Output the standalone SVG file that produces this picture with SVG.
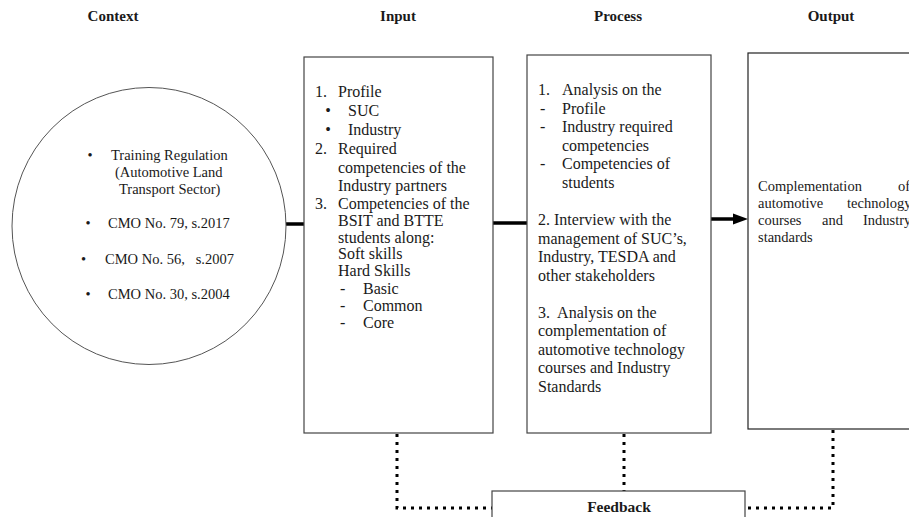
<svg xmlns="http://www.w3.org/2000/svg" width="909" height="517" viewBox="0 0 909 517">
<style>
text{font-family:"Liberation Serif","Times New Roman",serif;fill:#1a1a1a}
.h{font-size:15px;font-weight:bold;text-anchor:middle}
.c{font-size:14.5px}
.b{font-size:16px}
.o{font-size:14.5px}
.box{fill:#fff;stroke:#444;stroke-width:1.2}
.thick{stroke:#000;stroke-width:3.5;fill:none}
.dot{stroke:#000;stroke-width:3;fill:none;stroke-dasharray:3 5}
</style>
<defs>
<marker id="arr" markerWidth="14" markerHeight="10" refX="14" refY="5" orient="auto" markerUnits="userSpaceOnUse">
<path d="M0,0 L14,5 L0,10 Z" fill="#000"/>
</marker>
</defs>
<rect width="909" height="517" fill="#fff"/>
<g id="headings">
<text class="h" x="113" y="21">Context</text>
<text class="h" x="398" y="21">Input</text>
<text class="h" x="618" y="21">Process</text>
<text class="h" x="831" y="21">Output</text>
</g>
<g id="connectors">
<line class="thick" x1="286" y1="224" x2="304" y2="224"/>
<line class="thick" x1="493" y1="223" x2="527" y2="223"/>
<line class="thick" x1="711" y1="219" x2="735" y2="219"/>
<path d="M733,213.5 L748,219 L733,224.5 Z" fill="#000"/>
<path class="dot" d="M397,434 V508 H492"/>
<path class="dot" d="M624,434 V491"/>
<path class="dot" d="M833,430 V508 H746"/>
</g>
<g id="context">
<ellipse cx="149" cy="226" rx="137" ry="138.5" fill="#fff" stroke="#555" stroke-width="1"/>
<text class="c" x="90" y="160" text-anchor="middle">•</text>
<text class="c" x="111" y="160">Training Regulation</text>
<text class="c" x="115" y="177">(Automotive Land</text>
<text class="c" x="119" y="194">Transport Sector)</text>
<text class="c" x="88" y="228" text-anchor="middle">•</text>
<text class="c" x="108" y="228">CMO No. 79, s.2017</text>
<text class="c" x="83.5" y="264" text-anchor="middle">•</text>
<text class="c" x="105" y="264" xml:space="preserve">CMO No. 56,   s.2007</text>
<text class="c" x="88" y="299" text-anchor="middle">•</text>
<text class="c" x="108" y="299">CMO No. 30, s.2004</text>
</g>
<g id="input">
<rect class="box" x="304" y="57" width="189" height="376"/>
<text class="b" x="315" y="96.5">1.</text>
<text class="b" x="338" y="96.5">Profile</text>
<text class="b" x="328" y="116" text-anchor="middle">•</text>
<text class="b" x="348" y="116">SUC</text>
<text class="b" x="328" y="135" text-anchor="middle">•</text>
<text class="b" x="348" y="135">Industry</text>
<text class="b" x="315" y="154">2.</text>
<text class="b" x="338" y="154">Required</text>
<text class="b" x="338" y="172.5">competencies of the</text>
<text class="b" x="338" y="190.5">Industry partners</text>
<text class="b" x="315" y="208.5">3.</text>
<text class="b" x="338" y="208.5">Competencies of the</text>
<text class="b" x="338" y="226">BSIT and BTTE</text>
<text class="b" x="338" y="243">students along:</text>
<text class="b" x="338" y="259">Soft skills</text>
<text class="b" x="338" y="276">Hard Skills</text>
<text class="b" x="340" y="293.5">-</text>
<text class="b" x="363" y="293.5">Basic</text>
<text class="b" x="340" y="310.5">-</text>
<text class="b" x="363" y="310.5">Common</text>
<text class="b" x="340" y="327.5">-</text>
<text class="b" x="363" y="327.5">Core</text>
</g>
<g id="process">
<rect class="box" x="527" y="55" width="184" height="378"/>
<text class="b" x="538" y="95">1.</text>
<text class="b" x="562" y="95">Analysis on the</text>
<text class="b" x="540" y="113.5">-</text>
<text class="b" x="562" y="113.5">Profile</text>
<text class="b" x="540" y="132">-</text>
<text class="b" x="562" y="132">Industry required</text>
<text class="b" x="562" y="150.5">competencies</text>
<text class="b" x="540" y="169">-</text>
<text class="b" x="562" y="169">Competencies of</text>
<text class="b" x="562" y="187.5">students</text>
<text class="b" x="538" y="225">2. Interview with the</text>
<text class="b" x="538" y="243.5">management of SUC’s,</text>
<text class="b" x="538" y="262">Industry, TESDA and</text>
<text class="b" x="538" y="280.5">other stakeholders</text>
<text class="b" x="538" y="317.5" xml:space="preserve">3.  Analysis on the</text>
<text class="b" x="538" y="336">complementation of</text>
<text class="b" x="538" y="354.5">automotive technology</text>
<text class="b" x="538" y="373">courses and Industry</text>
<text class="b" x="538" y="391.5">Standards</text>
</g>
<g id="output">
<rect x="748" y="53" width="200" height="376" fill="#fff" stroke="#222" stroke-width="1.2"/>
<text class="o" x="758" y="191">Complementation</text>
<text class="o" x="898" y="191">of</text>
<text class="o" x="758" y="208">automotive</text>
<text class="o" x="847" y="208">technology</text>
<text class="o" x="758" y="225">courses</text>
<text class="o" x="822" y="225">and</text>
<text class="o" x="863" y="225">Industry</text>
<text class="o" x="758" y="242">standards</text>
</g>
<g id="feedback">
<rect class="box" x="492" y="491" width="253" height="40"/>
<text class="h" x="619" y="512" style="font-size:15.5px">Feedback</text>
</g>
</svg>
